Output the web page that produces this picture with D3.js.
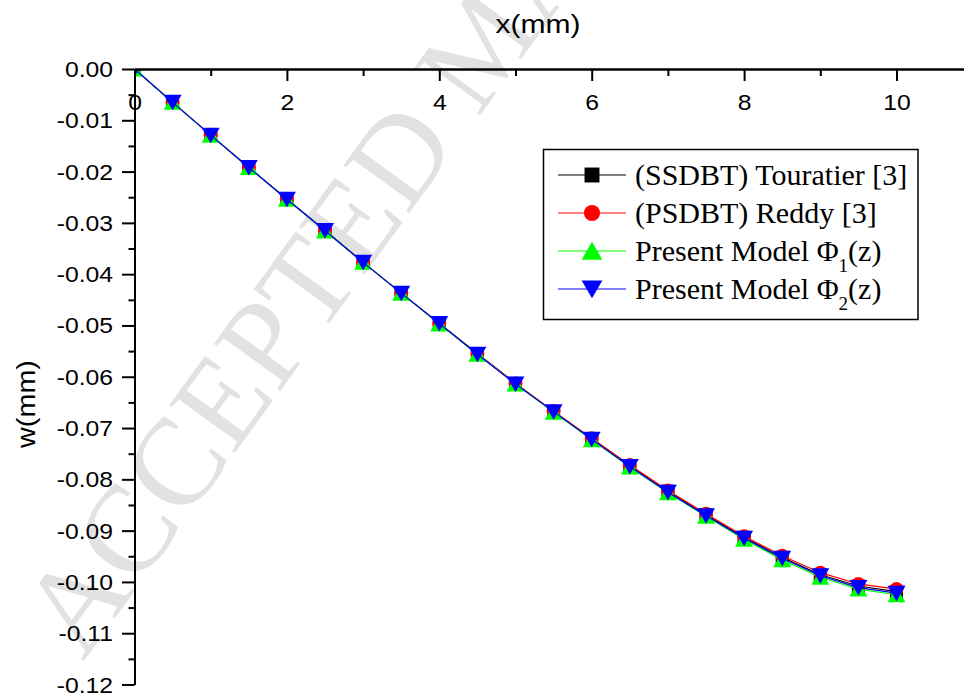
<!DOCTYPE html>
<html>
<head>
<meta charset="utf-8">
<script src="https://cdn.jsdelivr.net/npm/d3@7"></script>
<style>
  html, body { margin: 0; padding: 0; background: #fff; }
  svg { display: block; }
</style>
</head>
<body>
<svg id="chart" width="964" height="695"></svg>
<script>
// ---------- data ----------
const xValues = [0, 0.5, 1, 1.5, 2, 2.5, 3, 3.5, 4, 4.5, 5, 5.5, 6, 6.5, 7, 7.5, 8, 8.5, 9, 9.5, 10];
const touratier = [0, -0.0065, -0.0129, -0.0192, -0.0254, -0.0315, -0.0377, -0.0437, -0.0496, -0.0555, -0.0613, -0.0668, -0.0721, -0.0773, -0.0823, -0.0869, -0.0913, -0.0952, -0.0986, -0.1008, -0.1019];
const reddy     = [0, -0.0065, -0.0129, -0.0192, -0.0254, -0.0315, -0.0377, -0.0437, -0.0496, -0.0555, -0.0613, -0.0667, -0.0720, -0.0772, -0.0822, -0.0867, -0.0911, -0.0949, -0.0982, -0.1004, -0.1014];
const phi1      = [0, -0.0065, -0.0129, -0.0192, -0.0254, -0.0316, -0.0377, -0.0437, -0.0497, -0.0556, -0.0614, -0.0669, -0.0723, -0.0776, -0.0826, -0.0872, -0.0917, -0.0957, -0.0991, -0.1014, -0.1025];
const phi2      = [0, -0.0065, -0.0129, -0.0192, -0.0254, -0.0315, -0.0377, -0.0437, -0.0496, -0.0556, -0.0614, -0.0668, -0.0722, -0.0775, -0.0825, -0.0871, -0.0915, -0.0954, -0.0988, -0.1011, -0.1022];

const xMajorTicks = [0, 2, 4, 6, 8, 10];
const xMinorTicks = [1, 3, 5, 7, 9, 11];
const yMajorTicks = [0, -0.01, -0.02, -0.03, -0.04, -0.05, -0.06, -0.07, -0.08, -0.09, -0.10, -0.11, -0.12];
const yMinorTicks = [-0.005, -0.015, -0.025, -0.035, -0.045, -0.055, -0.065, -0.075, -0.085, -0.095, -0.105, -0.115];

const seriesNames = ["(SSDBT) Touratier [3]", "(PSDBT) Reddy [3]", "Present Model Φ1(z)", "Present Model Φ2(z)"];
const xTitle = "x(mm)";
const yTitle = "w(mm)";
const watermark = "ACCEPTED MANUSCRIPT";

// ---------- setup ----------
const svg = d3.select("#chart");
const W = 964, H = 695;
const x0 = 134.5, y0 = 69;
const x = d3.scaleLinear().domain([0, 11]).range([x0, x0 + 11 * 76.2]);
const y = d3.scaleLinear().domain([0, -0.12]).range([y0, 684.5]);

const sans = "'Liberation Sans', Arial, Helvetica, sans-serif";
const serif = "'Liberation Serif', 'Times New Roman', Times, serif";

// watermark
svg.append("text")
  .attr("transform", "translate(83,662) rotate(-54)")
  .attr("font-family", serif)
  .attr("font-size", 124)
  .attr("fill", "#e2e2e2")
  .text(watermark);

// clip for data
svg.append("defs").append("clipPath").attr("id", "plotclip")
  .append("rect").attr("x", x0).attr("y", y0).attr("width", W - x0).attr("height", H - y0);

// ---------- series ----------
const series = [
  { name: seriesNames[0], vals: touratier, color: "#000000", shape: "square" },
  { name: seriesNames[1], vals: reddy, color: "#ff0000", shape: "circle" },
  { name: seriesNames[2], vals: phi1, color: "#00ff00", shape: "up" },
  { name: seriesNames[3], vals: phi2, color: "#0000ff", shape: "down" }
];

function markerPath(shape, k) {
  if (shape === "square") return `M${-6.5*k},${-6.5*k}H${6.5*k}V${6.5*k}H${-6.5*k}Z`;
  if (shape === "circle") return d3.arc()({innerRadius: 0, outerRadius: 7 * k, startAngle: 0, endAngle: 2 * Math.PI});
  if (shape === "up") return `M0,${-8*k}L${9*k},${7.5*k}L${-9*k},${7.5*k}Z`;
  return `M0,${8*k}L${9*k},${-7.5*k}L${-9*k},${-7.5*k}Z`;
}

const plot = svg.append("g").attr("clip-path", "url(#plotclip)");
const line = d3.line().x((d, i) => x(xValues[i])).y(d => y(d));
series.forEach(s => {
  const g = plot.append("g");
  g.append("path").datum(s.vals).attr("d", line)
    .attr("fill", "none").attr("stroke", s.color).attr("stroke-width", 1.2);
  g.selectAll("path.m").data(s.vals).enter().append("path").attr("class", "m")
    .attr("d", markerPath(s.shape, 1))
    .attr("transform", (d, i) => `translate(${x(xValues[i])},${y(d)})`)
    .attr("fill", s.color);
});

// ---------- axes ----------
const xAxisMajor = d3.axisBottom(x).tickValues(xMajorTicks).tickSize(12).tickSizeOuter(0).tickPadding(14).tickFormat(d3.format("d"));
const gx = svg.append("g").attr("transform", `translate(0,${y0})`).call(xAxisMajor);
const xAxisMinor = d3.axisBottom(x).tickValues(xMinorTicks).tickSize(7).tickSizeOuter(0).tickFormat("");
const gxm = svg.append("g").attr("transform", `translate(0,${y0})`).call(xAxisMinor);

const yAxisMajor = d3.axisLeft(y).tickValues(yMajorTicks).tickSize(12.5).tickSizeOuter(0).tickFormat(d3.format(".2f"));
const gy = svg.append("g").attr("transform", `translate(${x0},0)`).call(yAxisMajor);
const yAxisMinor = d3.axisLeft(y).tickValues(yMinorTicks).tickSize(6).tickSizeOuter(0).tickFormat("");
const gym = svg.append("g").attr("transform", `translate(${x0},0)`).call(yAxisMinor);

[gx, gxm, gy, gym].forEach(g => {
  g.selectAll("path.domain").attr("stroke", "#000").attr("stroke-width", 2);
  g.selectAll(".tick line").attr("stroke", "#000").attr("stroke-width", 2);
});
gx.selectAll(".tick text")
  .attr("font-family", sans).attr("font-size", 21.5).attr("fill", "#000")
  .attr("transform", "scale(1.15,1)");
gy.selectAll(".tick text")
  .attr("font-family", sans).attr("font-size", 21.5).attr("fill", "#000")
  .attr("x", -21.5 / 1.15).attr("dy", "0.35em")
  .attr("transform", "scale(1.15,1)")
  .text(d => d3.format(".2f")(d).replace("−", "-"));

// axis titles
svg.append("text")
  .attr("transform", "translate(538,33) scale(1.2,1)")
  .attr("text-anchor", "middle")
  .attr("font-family", sans).attr("font-size", 25).attr("fill", "#000")
  .text(xTitle);
svg.append("text")
  .attr("transform", "translate(35,404) rotate(-90) scale(1.15,1)")
  .attr("text-anchor", "middle")
  .attr("font-family", sans).attr("font-size", 25).attr("fill", "#000")
  .text(yTitle);

// ---------- legend ----------
const lg = svg.append("g");
lg.append("rect").attr("x", 543.5).attr("y", 149.5).attr("width", 374.5).attr("height", 170)
  .attr("fill", "#fff").attr("stroke", "#000").attr("stroke-width", 1.5);
const rowY = [175, 213, 251, 289];
series.forEach((s, i) => {
  const ry = rowY[i];
  lg.append("line").attr("x1", 558).attr("x2", 626).attr("y1", ry).attr("y2", ry)
    .attr("stroke", s.color).attr("stroke-width", 1.2);
  lg.append("path").attr("d", markerPath(s.shape, 1.15))
    .attr("transform", `translate(592,${ry})`).attr("fill", s.color);
  const t = lg.append("text").attr("x", 635).attr("y", ry + 10)
    .attr("font-family", serif).attr("font-size", 30).attr("fill", "#000");
  if (i < 2) {
    t.text(s.name);
  } else {
    t.append("tspan").text("Present Model Φ");
    t.append("tspan").attr("dy", 11).attr("font-size", 19).text(i === 2 ? "1" : "2");
    t.append("tspan").attr("dy", -11).text("(z)");
  }
});
</script>
</body>
</html>
